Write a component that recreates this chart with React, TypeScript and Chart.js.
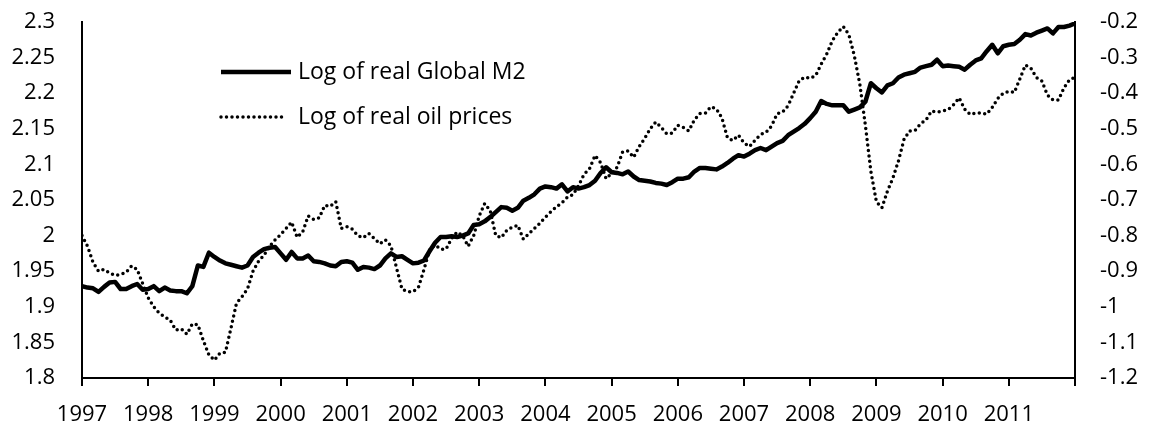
import { useEffect, useRef } from "react";
import { Chart, registerables } from "chart.js";

Chart.register(...registerables);

const START_YEAR = 1997;
const END_YEAR = 2012;
const YEAR_STEP = 1;

const M2_LABEL = "Log of real Global M2";
const OIL_LABEL = "Log of real oil prices";

const LEFT_MIN = 1.8;
const LEFT_MAX = 2.3;
const LEFT_STEP = 0.05;
const RIGHT_MIN = -1.2;
const RIGHT_MAX = -0.2;
const RIGHT_STEP = 0.1;

// monthly values, Jan 1997 .. Jan 2012
const m2Values = [
  1.929, 1.927, 1.926, 1.921, 1.928, 1.934, 1.935, 1.925, 1.925, 1.929, 1.932, 1.924,
  1.925, 1.929, 1.922, 1.927, 1.923, 1.922, 1.922, 1.919, 1.929, 1.958, 1.956, 1.976,
  1.970, 1.965, 1.961, 1.959, 1.957, 1.955, 1.958, 1.970, 1.976, 1.981, 1.983, 1.984,
  1.975, 1.966, 1.977, 1.968, 1.968, 1.972, 1.964, 1.963, 1.961, 1.958, 1.957, 1.963,
  1.964, 1.962, 1.952, 1.956, 1.955, 1.953, 1.958, 1.968, 1.975, 1.970, 1.971, 1.966,
  1.961, 1.962, 1.965, 1.978, 1.990, 1.998, 1.998, 1.999, 1.998, 2.000, 2.003, 2.015,
  2.016, 2.020, 2.026, 2.033, 2.040, 2.039, 2.035, 2.039, 2.049, 2.053, 2.058, 2.066,
  2.069, 2.068, 2.066, 2.072, 2.062, 2.068, 2.066, 2.068, 2.071, 2.077, 2.088, 2.096,
  2.089, 2.088, 2.086, 2.090, 2.083, 2.078, 2.077, 2.076, 2.074, 2.073, 2.071, 2.075,
  2.080, 2.080, 2.082, 2.090, 2.095, 2.095, 2.094, 2.093, 2.097, 2.102, 2.108, 2.113,
  2.111, 2.115, 2.120, 2.123, 2.120, 2.125, 2.130, 2.133, 2.141, 2.146, 2.151, 2.157,
  2.165, 2.174, 2.189, 2.185, 2.183, 2.183, 2.183, 2.174, 2.177, 2.180, 2.188, 2.214,
  2.207, 2.201, 2.211, 2.214, 2.222, 2.226, 2.228, 2.230, 2.236, 2.238, 2.240, 2.247,
  2.238, 2.239, 2.238, 2.237, 2.233, 2.240, 2.246, 2.249, 2.259, 2.268, 2.256, 2.266,
  2.268, 2.269, 2.275, 2.283, 2.281, 2.285, 2.288, 2.291, 2.284, 2.293, 2.293, 2.295,
  2.298,
];

const oilValues = [
  -0.800, -0.830, -0.875, -0.900, -0.895, -0.905, -0.912, -0.909, -0.903, -0.885, -0.895, -0.935,
  -0.975, -1.000, -1.018, -1.028, -1.038, -1.065, -1.062, -1.077, -1.048, -1.050, -1.095, -1.135,
  -1.150, -1.130, -1.128, -1.060, -0.990, -0.972, -0.950, -0.900, -0.872, -0.855, -0.830, -0.812,
  -0.797, -0.780, -0.762, -0.805, -0.790, -0.745, -0.755, -0.750, -0.715, -0.718, -0.705, -0.780,
  -0.775, -0.782, -0.800, -0.806, -0.794, -0.808, -0.823, -0.812, -0.829, -0.890, -0.950, -0.958,
  -0.958, -0.945, -0.895, -0.840, -0.826, -0.838, -0.838, -0.808, -0.790, -0.800, -0.830, -0.800,
  -0.745, -0.710, -0.730, -0.800, -0.806, -0.785, -0.776, -0.771, -0.810, -0.795, -0.780, -0.765,
  -0.748, -0.733, -0.719, -0.708, -0.692, -0.685, -0.660, -0.628, -0.612, -0.575, -0.595, -0.640,
  -0.625, -0.608, -0.565, -0.562, -0.580, -0.550, -0.527, -0.500, -0.481, -0.496, -0.514, -0.512,
  -0.490, -0.496, -0.506, -0.475, -0.457, -0.456, -0.438, -0.444, -0.470, -0.525, -0.533, -0.518,
  -0.540, -0.550, -0.532, -0.516, -0.510, -0.492, -0.458, -0.453, -0.435, -0.400, -0.365, -0.355,
  -0.358, -0.350, -0.318, -0.290, -0.253, -0.229, -0.213, -0.235, -0.295, -0.375, -0.490, -0.620,
  -0.705, -0.722, -0.675, -0.638, -0.590, -0.530, -0.506, -0.505, -0.486, -0.475, -0.450, -0.453,
  -0.450, -0.446, -0.432, -0.413, -0.445, -0.460, -0.456, -0.455, -0.459, -0.440, -0.415, -0.400,
  -0.395, -0.398, -0.360, -0.321, -0.330, -0.356, -0.366, -0.405, -0.419, -0.419, -0.385, -0.362,
  -0.355,
];

const FONT_FAMILY = "'Open Sans'";
const TICK_FONT_SIZE = 22;
const LEGEND_FONT_SIZE = 23;

const toPoints = (vals: number[]) =>
  vals.map((v, i) => ({ x: START_YEAR + i / 12, y: v }));

const fmt = (v: number) => String(Math.round(v * 100) / 100);

const legendPlugin = {
  id: "insetLegend",
  afterDraw(chart: any) {
    const ctx = chart.ctx as CanvasRenderingContext2D;
    const rows = [72, 117];
    const ends = [291, 287];
    ctx.save();
    chart.data.datasets.forEach((ds: any, k: number) => {
      const y = rows[k];
      ctx.beginPath();
      ctx.strokeStyle = "#000";
      ctx.lineWidth = ds.borderWidth;
      ctx.lineCap = ds.borderCapStyle || "butt";
      ctx.setLineDash(ds.borderDash || []);
      ctx.moveTo(221, y);
      ctx.lineTo(ends[k], y);
      ctx.stroke();
      ctx.setLineDash([]);
      ctx.fillStyle = "#000";
      ctx.font = `${LEGEND_FONT_SIZE}px ${FONT_FAMILY}`;
      ctx.textBaseline = "middle";
      ctx.textAlign = "left";
      ctx.fillText(ds.label, 298, y);
    });
    ctx.restore();
  },
};

export default function App() {
  const ref = useRef<HTMLCanvasElement | null>(null);

  useEffect(() => {
    if (!ref.current) return;
    const font = { family: FONT_FAMILY, size: TICK_FONT_SIZE };
    const chart = new Chart(ref.current, {
      type: "line",
      data: {
        datasets: [
          {
            label: M2_LABEL,
            data: toPoints(m2Values),
            yAxisID: "y",
            borderColor: "#000",
            borderWidth: 4.5,
            borderJoinStyle: "round",
            pointRadius: 0,
            tension: 0,
          },
          {
            label: OIL_LABEL,
            data: toPoints(oilValues),
            yAxisID: "y1",
            borderColor: "#000",
            borderWidth: 3.5,
            borderDash: [0, 5.5],
            borderCapStyle: "round",
            pointRadius: 0,
            tension: 0,
          },
        ],
      },
      options: {
        responsive: false,
        animation: false,
        layout: { padding: { top: 22, left: 0, right: 0, bottom: 0 } },
        plugins: {
          legend: { display: false },
          tooltip: { enabled: false },
        },
        scales: {
          x: {
            type: "linear",
            min: START_YEAR,
            max: END_YEAR,
            afterFit: (s: any) => {
              s.height = 50;
            },
            border: { display: true, color: "#000", width: 2 },
            grid: {
              display: true,
              drawOnChartArea: false,
              drawTicks: true,
              tickLength: 8,
              color: "#000",
              lineWidth: 2,
            },
            ticks: {
              stepSize: YEAR_STEP,
              autoSkip: false,
              maxRotation: 0,
              padding: 16,
              color: "#000",
              font,
              callback: (v: any) => (Number(v) >= END_YEAR ? "" : String(v)),
            },
          },
          y: {
            position: "left",
            min: LEFT_MIN,
            max: LEFT_MAX,
            afterFit: (s: any) => {
              s.width = 82;
            },
            border: { display: true, color: "#000", width: 2 },
            grid: { display: false, drawTicks: true, tickLength: 19 },
            ticks: {
              stepSize: LEFT_STEP,
              padding: 8,
              color: "#000",
              font,
              callback: (v: any) => fmt(Number(v)),
            },
          },
          y1: {
            position: "right",
            min: RIGHT_MIN,
            max: RIGHT_MAX,
            afterFit: (s: any) => {
              s.width = 75;
            },
            border: { display: true, color: "#000", width: 2 },
            grid: { display: false, drawTicks: true, tickLength: 17 },
            ticks: {
              stepSize: RIGHT_STEP,
              padding: 8,
              color: "#000",
              font,
              callback: (v: any) => fmt(Number(v)),
            },
          },
        },
      },
      plugins: [legendPlugin],
    } as any);
    return () => chart.destroy();
  }, []);

  return (
    <div style={{ position: "fixed", left: 0, top: 0, width: 1150, height: 428, background: "#fff" }}>
      <canvas ref={ref} width={1150} height={428} style={{ display: "block" }} />
    </div>
  );
}
